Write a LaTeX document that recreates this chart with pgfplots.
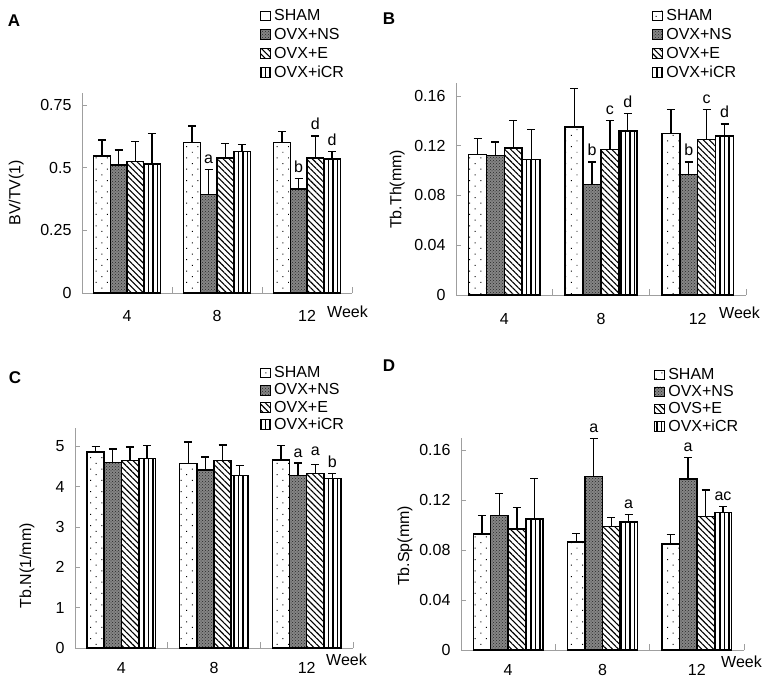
\documentclass[border=0pt]{standalone}
\usepackage{pgfplots}
\usepackage{pgfplotstable}
\pgfplotsset{compat=1.18}
\usepackage{fontspec}
\setmainfont{Liberation Sans}
\usetikzlibrary{patterns,patterns.meta}

% pos = week slot (1,2,3 -> 4,8,12 weeks); each group: mean, upper error
\pgfplotstableread{
pos sham shamE ns nsE e eE icr icrE
1 0.547 0.064 0.511 0.060 0.524 0.080 0.514 0.123
2 0.601 0.065 0.394 0.100 0.538 0.059 0.564 0.029
3 0.600 0.044 0.414 0.044 0.538 0.089 0.535 0.029
}\bvtv
\pgfplotstableread{
pos sham shamE ns nsE e eE icr icrE
1 0.113 0.013 0.112 0.011 0.118 0.022 0.109 0.024
2 0.135 0.031 0.089 0.018 0.117 0.023 0.132 0.014
3 0.130 0.019 0.097 0.010 0.125 0.024 0.128 0.0095
}\tbth
\pgfplotstableread{
pos sham shamE ns nsE e eE icr icrE
1 4.85 0.15 4.60 0.33 4.65 0.33 4.70 0.31
2 4.57 0.53 4.41 0.32 4.65 0.38 4.27 0.25
3 4.66 0.36 4.27 0.31 4.32 0.23 4.20 0.13
}\tbn
\pgfplotstableread{
pos sham shamE ns nsE e eE icr icrE
1 0.093 0.0145 0.1075 0.0175 0.097 0.017 0.105 0.032
2 0.0865 0.0065 0.139 0.030 0.099 0.007 0.1025 0.006
3 0.085 0.0075 0.137 0.017 0.107 0.021 0.110 0.005
}\tbsp

\newcommand{\txt}{\fontsize{16}{18}\selectfont}

\tikzset{
  lett/.style={anchor=base, yshift=6pt, font=\txt, inner sep=0pt},
  week/.style={anchor=west, font=\txt, inner sep=0pt},
}

\pgfplotsset{
  panel/.style={
    scale only axis, anchor=south west,
    xmin=0.5, xmax=3.5, ymin=0,
    axis lines*=left, clip=false,
    axis line style={gray!75, line width=0.8pt},
    tick style={gray!75, line width=0.8pt},
    tick align=inside, major tick length=5pt,
    xtick={1,2,3}, xticklabels={4,8,12},
    major x tick style={draw=none},
    minor xtick={1.5,2.5,3.5}, minor tick length=6pt,
    tick label style={font=\txt},
    yticklabel style={xshift=-7pt},
    label style={font=\txt},
    ylabel style={anchor=center},
    error bars/y dir=plus, error bars/y explicit,
    error bars/error bar style={black, line width=1.3pt},
    error bars/error mark options={black, line width=1.3pt, mark size=4pt, rotate=90},
    legend style={anchor=north west, draw=none, fill=none, inner sep=0pt,
      row sep=4.5pt, column sep=3pt, font=\txt, nodes={inner sep=0.8pt}},
    legend cell align=left,
    legend image code/.code={\draw[##1, line width=0.8pt] (0pt,-4.8pt) rectangle (9.5pt,4.8pt);},
  },
  onebar/.style={ybar, bar width=0.185, bar shift=0pt, draw=black, line width=1.5pt},
  sham/.style={onebar, fill=white,
    pattern={Dots[distance=8pt, radius=0.7pt, angle=45]}},
  ns/.style={onebar, fill=black!48,
    postaction={pattern=crosshatch dots, pattern color=black!85}},
  ovxe/.style={onebar, fill=white,
    pattern={Lines[angle=-45, distance=4.2pt, line width=1.1pt]}},
  icr/.style={onebar, fill=white,
    pattern={Lines[angle=90, distance=4.5pt, line width=1.1pt]}},
}

\newcommand{\bars}[1]{%
  \addplot[sham] table[x expr=\thisrow{pos}-0.2775, y=sham, y error=shamE]{#1};
  \addplot[ns] table[x expr=\thisrow{pos}-0.0925, y=ns, y error=nsE]{#1};
  \addplot[ovxe] table[x expr=\thisrow{pos}+0.0925, y=e, y error=eE]{#1};
  \addplot[icr] table[x expr=\thisrow{pos}+0.2775, y=icr, y error=icrE]{#1};
}

\begin{document}
\begin{tikzpicture}
\path[use as bounding box] (0,0) rectangle (767pt,-684pt);
\node[font=\bfseries\fontsize{17}{17}\selectfont] at (14pt,-21pt) {A};
\node[font=\bfseries\fontsize{17}{17}\selectfont] at (389pt,-19pt) {B};
\node[font=\bfseries\fontsize{17}{17}\selectfont] at (15pt,-378pt) {C};
\node[font=\bfseries\fontsize{17}{17}\selectfont] at (389pt,-366pt) {D};

% A
\begin{axis}[panel, at={(82pt,-293pt)}, width=270pt, height=200.5pt, ymax=0.8,
  ytick={0,0.25,0.5,0.75}, yticklabels={0,0.25,0.5,0.75},
  ylabel={BV/TV(1)}, ylabel style={at={(rel axis cs:-0.244,0.5)}},
  legend style={at={(0.659,1.419)}}, xticklabel style={yshift=-14pt}]
\bars{\bvtv}
\legend{SHAM,OVX+NS,OVX+E,OVX+iCR}
\node[week, xshift=-25pt, yshift=-19pt] at (rel axis cs:1,0) {Week};
\node[lett] at (axis cs:1.9075,0.494) {a};
\node[lett] at (axis cs:2.9075,0.458) {b};
\node[lett] at (axis cs:3.0925,0.627) {d};
\node[lett] at (axis cs:3.2775,0.564) {d};
\end{axis}

% B
\begin{axis}[panel, at={(456pt,-295pt)}, width=290pt, height=211.5pt, ymax=0.17,
  ytick={0,0.04,0.08,0.12,0.16}, yticklabels={0,0.04,0.08,0.12,0.16},
  ylabel={Tb.Th(mm)}, ylabel style={at={(rel axis cs:-0.203,0.5)}},
  legend style={at={(0.676,1.355)}}, xticklabel style={yshift=-15pt}]
\bars{\tbth}
\legend{SHAM,OVX+NS,OVX+E,OVX+iCR}
\node[week, xshift=-27pt, yshift=-18pt] at (rel axis cs:1,0) {Week};
\node[lett] at (axis cs:1.9075,0.107) {b};
\node[lett] at (axis cs:2.0925,0.140) {c};
\node[lett] at (axis cs:2.2775,0.146) {d};
\node[lett] at (axis cs:2.9075,0.107) {b};
\node[lett] at (axis cs:3.0925,0.149) {c};
\node[lett] at (axis cs:3.2775,0.1375) {d};
\end{axis}

% C
\begin{axis}[panel, at={(75pt,-648pt)}, width=278pt, height=220pt, ymax=5.45,
  ytick={0,1,2,3,4,5}, yticklabels={0,1,2,3,4,5},
  ylabel={Tb.N(1/mm)}, ylabel style={at={(rel axis cs:-0.173,0.373)}},
  legend style={at={(0.665,1.283)}, row sep=2.8pt}, xticklabel style={yshift=-11pt}]
\bars{\tbn}
\legend{SHAM,OVX+NS,OVX+E,OVX+iCR}
\node[week, xshift=-27pt, yshift=-12pt] at (rel axis cs:1,0) {Week};
\node[lett] at (axis cs:2.9075,4.58) {a};
\node[lett] at (axis cs:3.0925,4.62) {a};
\node[lett] at (axis cs:3.2775,4.33) {b};
\end{axis}

% D
\begin{axis}[panel, at={(461pt,-650pt)}, width=283pt, height=212.5pt, ymax=0.17,
  ytick={0,0.04,0.08,0.12,0.16}, yticklabels={0,0.04,0.08,0.12,0.16},
  ylabel={Tb.Sp(mm)}, ylabel style={at={(rel axis cs:-0.198,0.49)}},
  legend style={at={(0.682,1.33)}, row sep=2.8pt}, xticklabel style={yshift=-11pt}]
\bars{\tbsp}
\legend{SHAM,OVX+NS,OVS+E,OVX+iCR}
\node[week, xshift=-23pt, yshift=-12pt] at (rel axis cs:1,0) {Week};
\node[lett] at (axis cs:1.9075,0.169) {a};
\node[lett] at (axis cs:2.2775,0.1085) {a};
\node[lett] at (axis cs:2.9075,0.154) {a};
\node[lett] at (axis cs:3.2775,0.115) {ac};
\end{axis}
\end{tikzpicture}
\end{document}
